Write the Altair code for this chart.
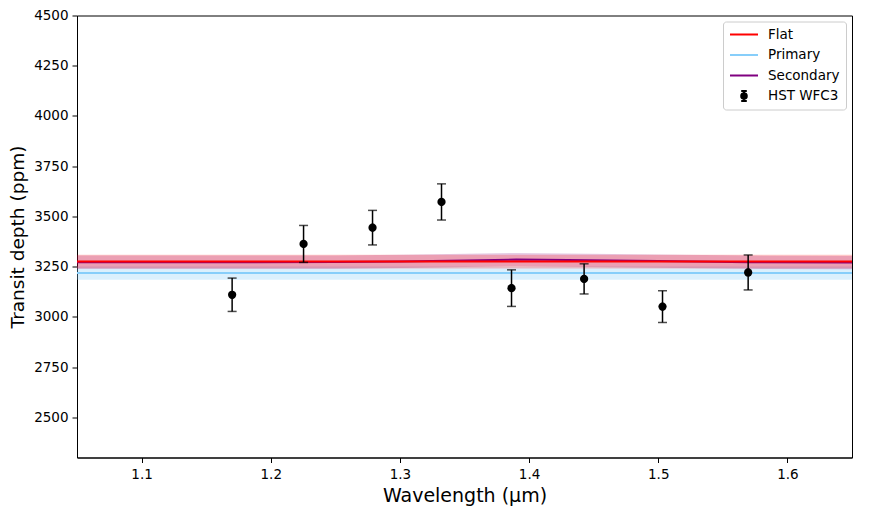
import altair as alt
import pandas as pd

# ---- observed spectrum (HST WFC3) ----
obs_wl = [1.1701, 1.2254, 1.2788, 1.3322, 1.3864, 1.4426, 1.5033, 1.5696]
obs_depth = [3110, 3363, 3444, 3572, 3143, 3189, 3051, 3221]
obs_err = [83, 92, 86, 90, 91, 75, 79, 87]

# ---- model spectra ----
model_wl = [1.05, 1.15, 1.25, 1.30, 1.35, 1.39, 1.43, 1.50, 1.57, 1.65]
flat_depth = [3275, 3275, 3275, 3275, 3275, 3275, 3275, 3275, 3275, 3275]
flat_err = [34, 34, 34, 34, 34, 34, 34, 34, 34, 34]
primary_depth = [3218, 3218, 3218, 3218, 3218, 3218, 3218, 3218, 3218, 3218]
primary_err = [33, 33, 33, 33, 33, 33, 33, 33, 33, 33]
secondary_depth = [3272, 3272, 3273, 3276, 3281, 3285, 3283, 3278, 3272, 3270]
secondary_err = [33, 33, 33, 33, 33, 33, 33, 33, 33, 33]

series_names = ["Flat", "Primary", "Secondary", "HST WFC3"]
series_colors = ["red", "lightskyblue", "purple", "black"]
line_shape = "M-1,0H1"
obs_shape = ("M0,-0.36V0.36M-0.2,-0.36H0.2M-0.2,0.36H0.2"
             "M0.2,0A0.2,0.2,0,1,1,-0.2,0A0.2,0.2,0,1,1,0.2,0"
             "M0.09,0A0.09,0.09,0,1,1,-0.09,0A0.09,0.09,0,1,1,0.09,0")
series_shapes = [line_shape, line_shape, line_shape, obs_shape]
x_ticks = [1.1, 1.2, 1.3, 1.4, 1.5, 1.6]
y_ticks = [2500, 2750, 3000, 3250, 3500, 3750, 4000, 4250, 4500]

# draw order: Primary, Secondary, Flat (flat on top)
rows = []
for name, d, e in [("Primary", primary_depth, primary_err),
                   ("Secondary", secondary_depth, secondary_err),
                   ("Flat", flat_depth, flat_err)]:
    for w, v, s in zip(model_wl, d, e):
        rows.append({"series": name, "wl": w, "depth": v, "lo": v - s, "hi": v + s})
models = pd.DataFrame(rows)

obs = pd.DataFrame({"series": "HST WFC3", "wl": obs_wl, "depth": obs_depth, "err": obs_err})
obs["lo"] = obs["depth"] - obs["err"]
obs["hi"] = obs["depth"] + obs["err"]

FONT = "DejaVu Sans"
xscale = alt.Scale(domain=[1.05, 1.65], nice=False, zero=False)
yscale = alt.Scale(domain=[2300, 4500], nice=False, zero=False)

xaxis = alt.Axis(values=x_ticks, format=".1f", title="Wavelength (µm)", grid=False,
                 titleFont=FONT, titleFontSize=19, titleFontWeight="normal", titleColor="black",
                 labelFont=FONT, labelFontSize=13.5, labelColor="black", labelPadding=5,
                 tickSize=5, tickColor="black", domainColor="black",
                 titleY=43.5, titleBaseline="alphabetic")
yaxis = alt.Axis(values=y_ticks, format="d", title="Transit depth (ppm)", grid=False,
                 titleFont=FONT, titleFontSize=18.5, titleFontWeight="normal", titleColor="black",
                 labelFont=FONT, labelFontSize=13.5, labelColor="black", labelPadding=4,
                 tickSize=5, tickColor="black", domainColor="black",
                 titleX=-54, titleY=221, titleAngle=270, titleBaseline="alphabetic",
                 titleAlign="center")

X = alt.X("wl:Q", scale=xscale, axis=xaxis)
Y = alt.Y("depth:Q", scale=yscale, axis=yaxis)

legend = alt.Legend(title=None, orient="top-right", offset=6, fillColor="white",
                    strokeColor="#cccccc", cornerRadius=3, padding=6,
                    symbolSize=784, symbolStrokeWidth=2, symbolOpacity=1,
                    labelFont=FONT, labelFontSize=13.5, labelColor="black",
                    clipHeight=14, rowPadding=6.5, labelOffset=9)
color = alt.Color("series:N", scale=alt.Scale(domain=series_names, range=series_colors),
                  legend=legend)
shape = alt.Shape("series:N", scale=alt.Scale(domain=series_names, range=series_shapes),
                  legend=legend)

band_colors = {"Primary": ("lightskyblue", 0.3), "Secondary": ("purple", 0.2), "Flat": ("red", 0.22)}
bands = []
for name in ["Primary", "Secondary", "Flat"]:
    c, o = band_colors[name]
    bands.append(
        alt.Chart(models[models.series == name]).mark_area(color=c, opacity=o).encode(
            x=X, y=alt.Y("lo:Q", scale=yscale, axis=yaxis), y2="hi:Q"
        )
    )

lines = alt.Chart(models).mark_line(strokeWidth=2).encode(
    x=X, y=Y, color=color, order=alt.Order("wl:Q")
)

err_rules = alt.Chart(obs).mark_rule(color="black", strokeWidth=1.5).encode(
    x=X, y=alt.Y("lo:Q", scale=yscale, axis=yaxis), y2="hi:Q"
)
cap_lo = alt.Chart(obs).mark_tick(color="black", orient="horizontal", size=9, thickness=1.5).encode(
    x=X, y=alt.Y("lo:Q", scale=yscale, axis=yaxis)
)
cap_hi = alt.Chart(obs).mark_tick(color="black", orient="horizontal", size=9, thickness=1.5).encode(
    x=X, y=alt.Y("hi:Q", scale=yscale, axis=yaxis)
)
legend_pts = alt.Chart(obs).mark_point(filled=False, size=250, strokeWidth=2).encode(
    x=X, y=Y, color=color, shape=shape
)
dots = alt.Chart(obs).mark_circle(color="black", size=68, opacity=1).encode(x=X, y=Y)

chart = alt.layer(*bands, lines, err_rules, cap_lo, cap_hi, legend_pts, dots).properties(
    width=775, height=442,
    autosize=alt.AutoSizeParams(type="none"),
    padding={"left": 69, "top": 7.5, "right": 10, "bottom": 50},
).configure(font=FONT, background="white",
            view=alt.ViewConfig(stroke="black", strokeWidth=1))

chart.save("out.html", embed_options={"renderer": "svg", "actions": False})
